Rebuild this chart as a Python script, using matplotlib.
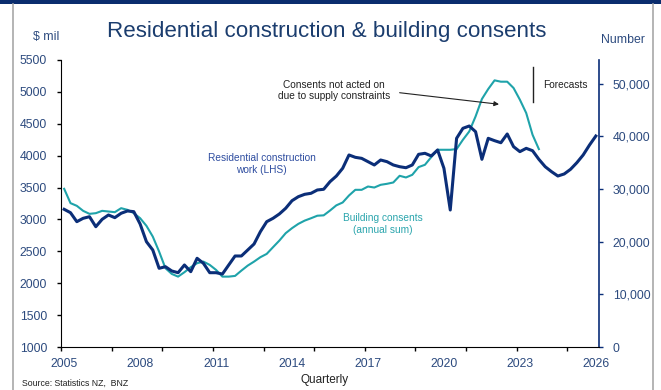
import numpy as np
import matplotlib.pyplot as plt
from matplotlib.ticker import FuncFormatter, FixedLocator

plt.rcParams['font.family'] = ['Liberation Sans', 'DejaVu Sans']

# quarterly, 2005 Q1 onwards
years = [2005, 2008, 2011, 2014, 2017, 2020, 2023, 2026]

# residential construction work, $ mil (LHS), incl. forecasts to 2026
ResWork = [3159, 3106, 2965, 3018, 3043, 2886, 3002, 3070, 3028, 3097,
           3133, 3122, 2929, 2651, 2521, 2234, 2259, 2192, 2165, 2286,
           2181, 2391, 2312, 2165, 2165, 2144, 2286, 2427, 2427, 2521,
           2615, 2808, 2965, 3018, 3086, 3175, 3294, 3357, 3394, 3410,
           3462, 3473, 3592, 3680, 3802, 4011, 3974, 3958, 3906, 3854,
           3932, 3906, 3854, 3827, 3811, 3854, 4021, 4037, 3995, 4089,
           3802, 3148, 4272, 4429, 4465, 4376, 3943, 4272, 4235, 4203,
           4340, 4141, 4063, 4115, 4078, 3943, 3827, 3749, 3681, 3713,
           3786, 3890, 4011, 4167, 4308]

# dwelling consents, annual sum (RHS)
Consents = [30038, 27320, 26806, 25855, 25285, 25412, 25855, 25730, 25602, 26362,
            26045, 25412, 24461, 23004, 20970, 18118, 14962, 13878, 13365, 14202,
            15152, 15912, 16217, 15589, 14639, 13365, 13365, 13498, 14506, 15456,
            16217, 17053, 17680, 18954, 20209, 21616, 22567, 23384, 24000, 24450,
            24930, 25000, 25912, 26900, 27440, 28770, 29848, 29848, 30475, 30285,
            30798, 30989, 31242, 32510, 32193, 32700, 34163, 34601, 36065, 37452,
            37452, 37452, 37580, 39354, 40932, 43783, 47091, 48992, 50634, 50380,
            50380, 49183, 46958, 44430, 40304, 37580]

ForecastStart = 74

navy = '#0b2e78'
teal = '#1fa3aa'
labcol = '#2c4a7e'

W, H = 661, 390
fig = plt.figure(figsize=(W / 100, H / 100), dpi=100)
ax = fig.add_axes([61 / W, 1 - 347 / H, 538 / W, 287 / H])
ax2 = ax.twinx()

xq = np.arange(len(ResWork))
xc = np.arange(len(Consents))
ax2.plot(xc, Consents, color=teal, lw=1.5, zorder=2)
ax.plot(xq, ResWork, color=navy, lw=2.2, zorder=3)
ax.set_zorder(ax2.get_zorder() + 1)
ax.patch.set_visible(False)

ax.set_xlim(-0.5, len(ResWork) - 0.5)
ax.set_ylim(1000, 5500)
ax2.set_ylim(0, 54500)

ax.set_yticks(np.arange(1000, 5501, 500))
ax2.set_yticks(np.arange(0, 50001, 10000))
ax2.yaxis.set_major_formatter(FuncFormatter(lambda v, p: '{:,.0f}'.format(v)))

ax.set_xticks([(y - 2005) * 4 for y in years])
ax.set_xticklabels([str(y) for y in years])
ax.xaxis.set_minor_locator(FixedLocator(np.arange(-0.5, len(ResWork), 8)))
ax.tick_params(axis='x', which='major', length=0, pad=8, labelsize=8.8, labelcolor=labcol)
ax.tick_params(axis='x', which='minor', length=3, width=1, direction='out')
ax.tick_params(axis='y', length=3, width=1, pad=7, labelsize=8.8, labelcolor=labcol)
ax2.tick_params(axis='y', length=3, width=1, pad=7, labelsize=8.8, labelcolor=labcol, color=navy)

for a in (ax, ax2):
    a.spines['top'].set_visible(False)
ax.spines['right'].set_visible(False)
ax2.spines['left'].set_visible(False)
ax2.spines['bottom'].set_visible(False)
ax2.spines['right'].set_color(navy)
ax2.spines['right'].set_linewidth(1.2)

# series labels and notes
ax.text(31.2, 3869, 'Residential construction\nwork (LHS)', color='#2e4da0',
        fontsize=7.3, ha='center', va='center', linespacing=1.15)
ax.text(50.4, 2929, 'Building consents\n(annual sum)', color='#2aa5ad',
        fontsize=7.3, ha='center', va='center', linespacing=1.15)
ax.text(42.6, 5022, 'Consents not acted on\ndue to supply constraints', color='#222222',
        fontsize=7.3, ha='center', va='center', linespacing=1.15)
ax.annotate('', xy=(68.7, 4806), xytext=(53.0, 4987),
            arrowprops=dict(arrowstyle='-|>', color='#222222', lw=0.8,
                            mutation_scale=7, shrinkA=0, shrinkB=0))
ax.plot([ForecastStart, ForecastStart], [4837, 5395], color='#222222', lw=1)
ax.text(79.2, 5108, 'Forecasts', color='#222222', fontsize=7.3, ha='center', va='center')

fig.text(327 / W, 1 - 31 / H, 'Residential construction & building consents',
         color='#1b3d6e', fontsize=16.1, ha='center', va='center')
fig.text(46 / W, 1 - 37 / H, '$ mil', color=labcol, fontsize=8.8, ha='center', va='center')
fig.text(623 / W, 1 - 40 / H, 'Number', color=labcol, fontsize=8.8, ha='center', va='center')
fig.text(325 / W, 1 - 380 / H, 'Quarterly', color='#222222', fontsize=8.5, ha='center', va='center')
fig.text(22 / W, 1 - 383 / H, 'Source: Statistics NZ,  BNZ', color='#222222', fontsize=6.3,
         ha='left', va='center')

# slide frame
fig.add_artist(plt.Rectangle((0, 1 - 4 / H), 1, 4 / H, transform=fig.transFigure,
                             color='#0a2d6e', lw=0))
fig.add_artist(plt.Line2D([13.5 / W, 13.5 / W], [0, 1 - 4 / H], transform=fig.transFigure,
                          color='#a8a8a8', lw=1.2))
fig.add_artist(plt.Line2D([652.5 / W, 652.5 / W], [0, 1 - 4 / H], transform=fig.transFigure,
                          color='#a8a8a8', lw=1.2))

fig.savefig('out.png', dpi=100)
